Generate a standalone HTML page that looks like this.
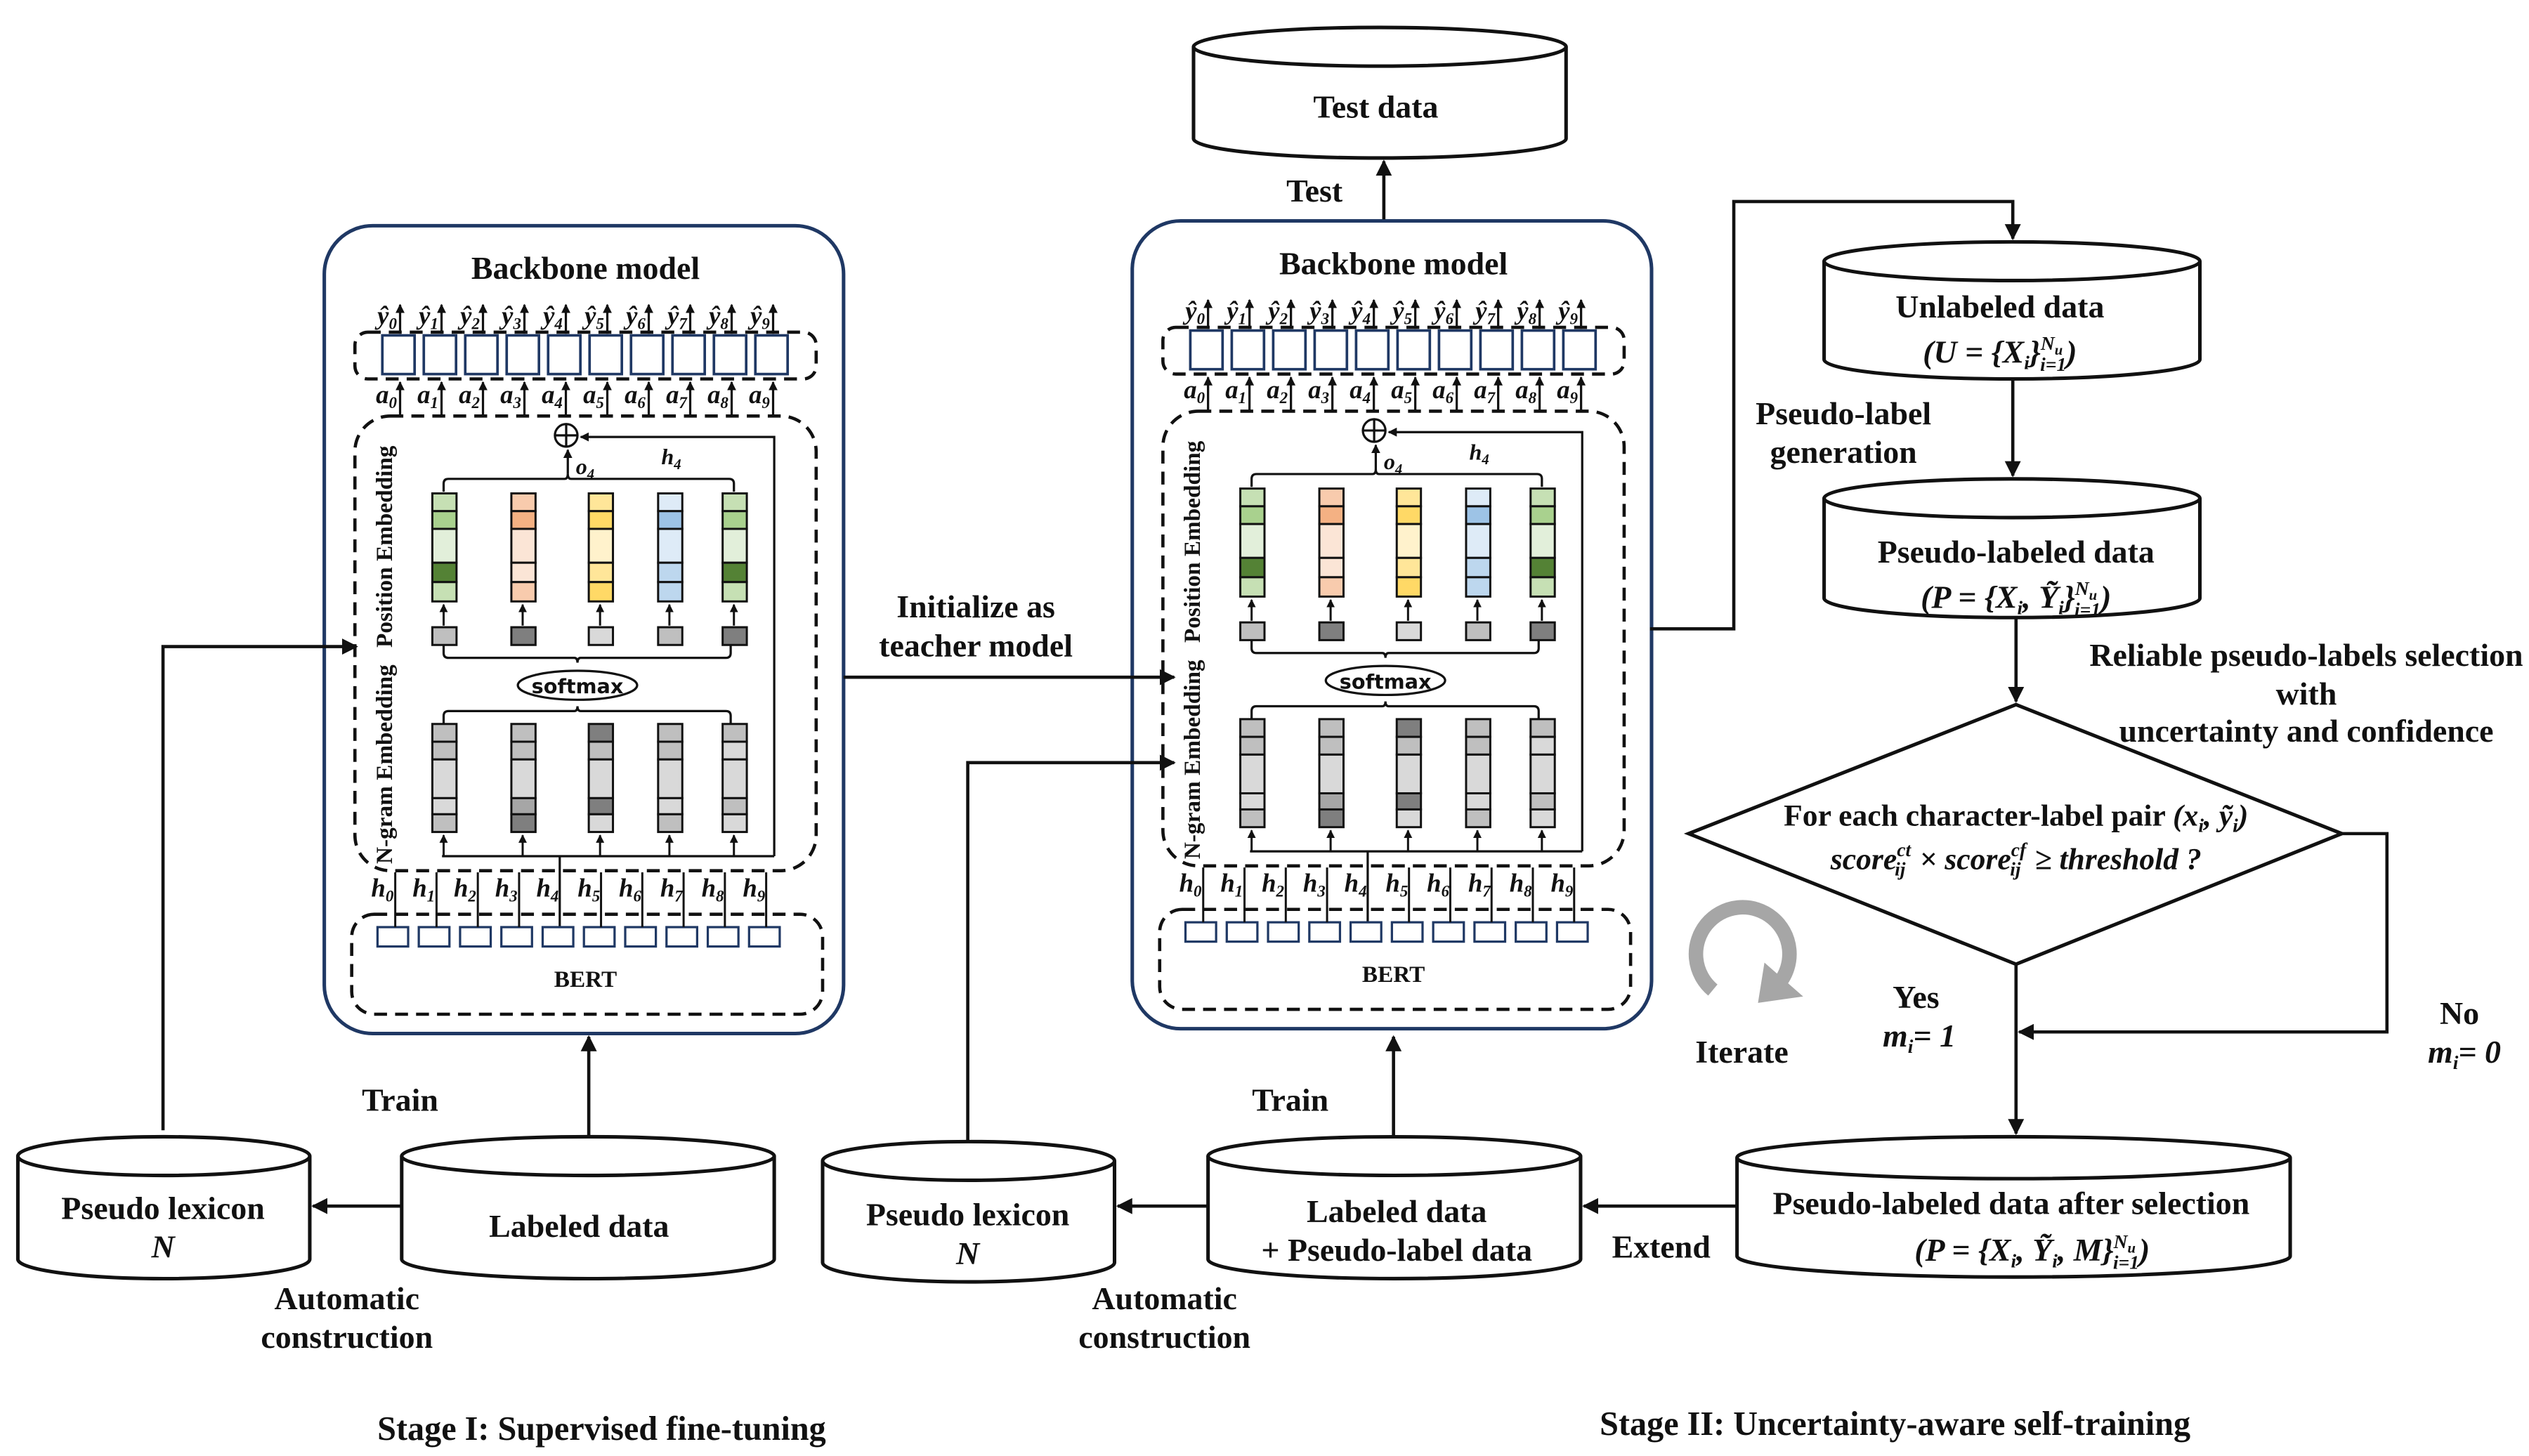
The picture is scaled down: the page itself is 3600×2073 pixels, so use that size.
<!DOCTYPE html>
<html><head><meta charset="utf-8"><style>
html,body{margin:0;padding:0;background:#fff;}
svg{display:block;}
text{font-family:"Liberation Serif",serif;font-weight:bold;fill:#111;}
</style></head><body>
<svg width="3600" height="2073" viewBox="0 0 1568 903" xmlns="http://www.w3.org/2000/svg">
<defs>
<marker id="ar" viewBox="0 0 10 10" refX="9" refY="5" markerWidth="5" markerHeight="5" orient="auto"><path d="M0,0 L10,5 L0,10 z" fill="#111"/></marker>
<marker id="as" viewBox="0 0 10 10" refX="9" refY="5" markerWidth="4" markerHeight="4" orient="auto"><path d="M0,0 L10,5 L0,10 z" fill="#111"/></marker>
<g id="bb">
<rect x="201" y="140" width="322" height="501" rx="30" fill="#fff" stroke="#1f3864" stroke-width="2.2"/>
<text x="363" y="173" font-size="20" text-anchor="middle">Backbone model</text>
<rect x="220" y="206" width="286" height="29" rx="8" fill="none" stroke="#111" stroke-width="2" stroke-dasharray="8,5"/>
<g fill="#fff" stroke="#1f3864" stroke-width="1.6">
<rect x="237" y="208" width="20" height="24"/><rect x="262.7" y="208" width="20" height="24"/><rect x="288.4" y="208" width="20" height="24"/><rect x="314.1" y="208" width="20" height="24"/><rect x="339.8" y="208" width="20" height="24"/><rect x="365.5" y="208" width="20" height="24"/><rect x="391.2" y="208" width="20" height="24"/><rect x="416.9" y="208" width="20" height="24"/><rect x="442.6" y="208" width="20" height="24"/><rect x="468.3" y="208" width="20" height="24"/>
</g>
<g stroke="#111" stroke-width="1.4" marker-end="url(#as)">
<line x1="248" y1="207" x2="248" y2="189"/><line x1="273.7" y1="207" x2="273.7" y2="189"/><line x1="299.4" y1="207" x2="299.4" y2="189"/><line x1="325.1" y1="207" x2="325.1" y2="189"/><line x1="350.8" y1="207" x2="350.8" y2="189"/><line x1="376.5" y1="207" x2="376.5" y2="189"/><line x1="402.2" y1="207" x2="402.2" y2="189"/><line x1="427.9" y1="207" x2="427.9" y2="189"/><line x1="453.6" y1="207" x2="453.6" y2="189"/><line x1="479.3" y1="207" x2="479.3" y2="189"/>
<line x1="248" y1="258" x2="248" y2="237"/><line x1="273.7" y1="258" x2="273.7" y2="237"/><line x1="299.4" y1="258" x2="299.4" y2="237"/><line x1="325.1" y1="258" x2="325.1" y2="237"/><line x1="350.8" y1="258" x2="350.8" y2="237"/><line x1="376.5" y1="258" x2="376.5" y2="237"/><line x1="402.2" y1="258" x2="402.2" y2="237"/><line x1="427.9" y1="258" x2="427.9" y2="237"/><line x1="453.6" y1="258" x2="453.6" y2="237"/><line x1="479.3" y1="258" x2="479.3" y2="237"/>
</g>
<g font-size="16" text-anchor="end" font-style="italic">
<text x="246" y="201">ŷ<tspan font-size="10" dy="3">0</tspan></text><text x="271.7" y="201">ŷ<tspan font-size="10" dy="3">1</tspan></text><text x="297.4" y="201">ŷ<tspan font-size="10" dy="3">2</tspan></text><text x="323.1" y="201">ŷ<tspan font-size="10" dy="3">3</tspan></text><text x="348.8" y="201">ŷ<tspan font-size="10" dy="3">4</tspan></text><text x="374.5" y="201">ŷ<tspan font-size="10" dy="3">5</tspan></text><text x="400.2" y="201">ŷ<tspan font-size="10" dy="3">6</tspan></text><text x="425.9" y="201">ŷ<tspan font-size="10" dy="3">7</tspan></text><text x="451.6" y="201">ŷ<tspan font-size="10" dy="3">8</tspan></text><text x="477.3" y="201">ŷ<tspan font-size="10" dy="3">9</tspan></text>
<text x="246" y="250">a<tspan font-size="10" dy="3">0</tspan></text><text x="271.7" y="250">a<tspan font-size="10" dy="3">1</tspan></text><text x="297.4" y="250">a<tspan font-size="10" dy="3">2</tspan></text><text x="323.1" y="250">a<tspan font-size="10" dy="3">3</tspan></text><text x="348.8" y="250">a<tspan font-size="10" dy="3">4</tspan></text><text x="374.5" y="250">a<tspan font-size="10" dy="3">5</tspan></text><text x="400.2" y="250">a<tspan font-size="10" dy="3">6</tspan></text><text x="425.9" y="250">a<tspan font-size="10" dy="3">7</tspan></text><text x="451.6" y="250">a<tspan font-size="10" dy="3">8</tspan></text><text x="477.3" y="250">a<tspan font-size="10" dy="3">9</tspan></text>
<text x="244" y="556">h<tspan font-size="10" dy="3">0</tspan></text><text x="269.6" y="556">h<tspan font-size="10" dy="3">1</tspan></text><text x="295.2" y="556">h<tspan font-size="10" dy="3">2</tspan></text><text x="320.8" y="556">h<tspan font-size="10" dy="3">3</tspan></text><text x="346.4" y="556">h<tspan font-size="10" dy="3">4</tspan></text><text x="372" y="556">h<tspan font-size="10" dy="3">5</tspan></text><text x="397.6" y="556">h<tspan font-size="10" dy="3">6</tspan></text><text x="423.2" y="556">h<tspan font-size="10" dy="3">7</tspan></text><text x="448.8" y="556">h<tspan font-size="10" dy="3">8</tspan></text><text x="474.4" y="556">h<tspan font-size="10" dy="3">9</tspan></text>
</g>
<rect x="220" y="258" width="286" height="282" rx="22" fill="none" stroke="#111" stroke-width="2" stroke-dasharray="8,5"/>
<text transform="translate(243,339) rotate(-90)" font-size="14.5" text-anchor="middle">Position Embedding</text>
<text transform="translate(243,474) rotate(-90)" font-size="14.5" text-anchor="middle">N-gram Embedding</text>
<circle cx="351" cy="270" r="7" fill="#fff" stroke="#111" stroke-width="1.4"/>
<line x1="344" y1="270" x2="358" y2="270" stroke="#111" stroke-width="1.4"/><line x1="351" y1="263" x2="351" y2="277" stroke="#111" stroke-width="1.4"/>
<text x="357" y="294" font-size="14" font-style="italic">o<tspan font-size="9" dy="3">4</tspan></text>
<text x="410" y="288" font-size="14" font-style="italic">h<tspan font-size="9" dy="3">4</tspan></text>
<g fill="none" stroke="#111" stroke-width="1.4">
<path d="M275,305 v-5 q0,-3 3,-3 h72 q2,0 2,-3 q0,3 2,3 h98 q3,0 3,3 v5"/>
<line x1="352" y1="294" x2="352" y2="279" marker-end="url(#as)"/>
<path d="M480,531 V271 H360" marker-end="url(#as)"/>
<path d="M275,400 v5 q0,3 3,3 h78 q2,0 2,3 q0,-3 2,-3 h90 q3,0 3,-3 v-5"/>
<path d="M275,449 v-5 q0,-3 3,-3 h78 q2,0 2,-3 q0,3 2,3 h90 q3,0 3,3 v5"/>
<line x1="274" y1="531" x2="480" y2="531"/>
<line x1="347" y1="580" x2="347" y2="531"/>
</g>
<g stroke="#111" stroke-width="1.3" marker-end="url(#as)">
<line x1="275" y1="531" x2="275" y2="518"/><line x1="324" y1="531" x2="324" y2="518"/><line x1="372" y1="531" x2="372" y2="518"/><line x1="415" y1="531" x2="415" y2="518"/><line x1="455" y1="531" x2="455" y2="518"/>
<line x1="275" y1="388" x2="275" y2="375"/><line x1="324" y1="388" x2="324" y2="375"/><line x1="372" y1="388" x2="372" y2="375"/><line x1="415" y1="388" x2="415" y2="375"/><line x1="455" y1="388" x2="455" y2="375"/>
</g>
<g stroke="#111" stroke-width="1.3">
<rect x="268" y="306" width="15" height="11" fill="#c6e0b4"/><rect x="268" y="317" width="15" height="11" fill="#a9d18e"/><rect x="268" y="328" width="15" height="21" fill="#e2efda"/><rect x="268" y="349" width="15" height="12" fill="#548235"/><rect x="268" y="361" width="15" height="12" fill="#c6e0b4"/>
<rect x="317" y="306" width="15" height="11" fill="#f8cbad"/><rect x="317" y="317" width="15" height="11" fill="#f4b183"/><rect x="317" y="328" width="15" height="21" fill="#fbe5d6"/><rect x="317" y="349" width="15" height="12" fill="#fbe5d6"/><rect x="317" y="361" width="15" height="12" fill="#f8cbad"/>
<rect x="365" y="306" width="15" height="11" fill="#ffe699"/><rect x="365" y="317" width="15" height="11" fill="#ffd966"/><rect x="365" y="328" width="15" height="21" fill="#fff2cc"/><rect x="365" y="349" width="15" height="12" fill="#ffe699"/><rect x="365" y="361" width="15" height="12" fill="#ffd966"/>
<rect x="408" y="306" width="15" height="11" fill="#deebf7"/><rect x="408" y="317" width="15" height="11" fill="#9dc3e6"/><rect x="408" y="328" width="15" height="21" fill="#deebf7"/><rect x="408" y="349" width="15" height="12" fill="#bdd7ee"/><rect x="408" y="361" width="15" height="12" fill="#bdd7ee"/>
<rect x="448" y="306" width="15" height="11" fill="#c6e0b4"/><rect x="448" y="317" width="15" height="11" fill="#a9d18e"/><rect x="448" y="328" width="15" height="21" fill="#e2efda"/><rect x="448" y="349" width="15" height="12" fill="#548235"/><rect x="448" y="361" width="15" height="12" fill="#c6e0b4"/>
<rect x="268" y="389" width="15" height="11" fill="#bfbfbf"/><rect x="317" y="389" width="15" height="11" fill="#7f7f7f"/><rect x="365" y="389" width="15" height="11" fill="#d9d9d9"/><rect x="408" y="389" width="15" height="11" fill="#bfbfbf"/><rect x="448" y="389" width="15" height="11" fill="#7f7f7f"/>
<rect x="268" y="449" width="15" height="11" fill="#bfbfbf"/><rect x="268" y="460" width="15" height="11" fill="#bfbfbf"/><rect x="268" y="471" width="15" height="24" fill="#d9d9d9"/><rect x="268" y="495" width="15" height="10" fill="#d9d9d9"/><rect x="268" y="505" width="15" height="11" fill="#bfbfbf"/>
<rect x="317" y="449" width="15" height="11" fill="#bfbfbf"/><rect x="317" y="460" width="15" height="11" fill="#bfbfbf"/><rect x="317" y="471" width="15" height="24" fill="#d9d9d9"/><rect x="317" y="495" width="15" height="10" fill="#a6a6a6"/><rect x="317" y="505" width="15" height="11" fill="#7f7f7f"/>
<rect x="365" y="449" width="15" height="11" fill="#7f7f7f"/><rect x="365" y="460" width="15" height="11" fill="#bfbfbf"/><rect x="365" y="471" width="15" height="24" fill="#d9d9d9"/><rect x="365" y="495" width="15" height="10" fill="#7f7f7f"/><rect x="365" y="505" width="15" height="11" fill="#d9d9d9"/>
<rect x="408" y="449" width="15" height="11" fill="#bfbfbf"/><rect x="408" y="460" width="15" height="11" fill="#bfbfbf"/><rect x="408" y="471" width="15" height="24" fill="#d9d9d9"/><rect x="408" y="495" width="15" height="10" fill="#d9d9d9"/><rect x="408" y="505" width="15" height="11" fill="#bfbfbf"/>
<rect x="448" y="449" width="15" height="11" fill="#bfbfbf"/><rect x="448" y="460" width="15" height="11" fill="#d9d9d9"/><rect x="448" y="471" width="15" height="24" fill="#d9d9d9"/><rect x="448" y="495" width="15" height="10" fill="#bfbfbf"/><rect x="448" y="505" width="15" height="11" fill="#d9d9d9"/>
</g>
<ellipse cx="358" cy="425" rx="37" ry="9" fill="#fff" stroke="#111" stroke-width="1.4"/>
<text x="358" y="430" font-size="12.5" text-anchor="middle" style="font-family:'DejaVu Sans',sans-serif">softmax</text>
<rect x="218" y="567" width="292" height="62" rx="14" fill="none" stroke="#111" stroke-width="2" stroke-dasharray="8,5"/>
<g fill="#fff" stroke="#1f3864" stroke-width="1.4">
<rect x="234" y="575" width="19" height="12"/><rect x="259.6" y="575" width="19" height="12"/><rect x="285.2" y="575" width="19" height="12"/><rect x="310.8" y="575" width="19" height="12"/><rect x="336.4" y="575" width="19" height="12"/><rect x="362" y="575" width="19" height="12"/><rect x="387.6" y="575" width="19" height="12"/><rect x="413.2" y="575" width="19" height="12"/><rect x="438.8" y="575" width="19" height="12"/><rect x="464.4" y="575" width="19" height="12"/>
</g>
<g stroke="#111" stroke-width="1.3">
<line x1="245" y1="575" x2="245" y2="541"/><line x1="270.6" y1="575" x2="270.6" y2="541"/><line x1="296.2" y1="575" x2="296.2" y2="541"/><line x1="321.8" y1="575" x2="321.8" y2="541"/><line x1="372.6" y1="575" x2="372.6" y2="541"/><line x1="398.2" y1="575" x2="398.2" y2="541"/><line x1="423.8" y1="575" x2="423.8" y2="541"/><line x1="449.4" y1="575" x2="449.4" y2="541"/><line x1="475" y1="575" x2="475" y2="541"/>
</g>
<text x="363" y="612" font-size="14.5" text-anchor="middle">BERT</text>
</g>
</defs>

<use href="#bb"/>
<use href="#bb" transform="translate(501,-3)"/>

<g fill="#fff" stroke="#111" stroke-width="2.2">
<path d="M740,29 a115.5,12 0 0 1 231,0 v57 a115.5,12 0 0 1 -231,0 z"/><path d="M740,29 a115.5,12 0 0 0 231,0" fill="none"/>
<path d="M11,717 a90.5,12 0 0 1 181,0 v64 a90.5,12 0 0 1 -181,0 z"/><path d="M11,717 a90.5,12 0 0 0 181,0" fill="none"/>
<path d="M249,717 a115.5,12 0 0 1 231,0 v64 a115.5,12 0 0 1 -231,0 z"/><path d="M249,717 a115.5,12 0 0 0 231,0" fill="none"/>
<path d="M510,720 a90.5,12 0 0 1 181,0 v63 a90.5,12 0 0 1 -181,0 z"/><path d="M510,720 a90.5,12 0 0 0 181,0" fill="none"/>
<path d="M749,717 a115.5,12 0 0 1 231,0 v64 a115.5,12 0 0 1 -231,0 z"/><path d="M749,717 a115.5,12 0 0 0 231,0" fill="none"/>
<path d="M1077,718 a171.5,13 0 0 1 343,0 v61 a171.5,13 0 0 1 -343,0 z"/><path d="M1077,718 a171.5,13 0 0 0 343,0" fill="none"/>
<path d="M1131,162 a116.5,12 0 0 1 233,0 v61 a116.5,12 0 0 1 -233,0 z"/><path d="M1131,162 a116.5,12 0 0 0 233,0" fill="none"/>
<path d="M1131,309 a116.5,12 0 0 1 233,0 v62 a116.5,12 0 0 1 -233,0 z"/><path d="M1131,309 a116.5,12 0 0 0 233,0" fill="none"/>
<path d="M1250,437 L1452,517 L1250,598 L1047,517 z"/>
</g>

<g fill="none" stroke="#111" stroke-width="2" marker-end="url(#ar)">
<line x1="858" y1="136" x2="858" y2="100"/>
<line x1="523" y1="420" x2="728" y2="420"/>
<path d="M101,701 V401 H221"/>
<line x1="249" y1="748" x2="194" y2="748"/>
<line x1="365" y1="705" x2="365" y2="643"/>
<path d="M600,707 V473 H728"/>
<line x1="749" y1="748" x2="693" y2="748"/>
<line x1="864" y1="705" x2="864" y2="643"/>
<line x1="1077" y1="748" x2="982" y2="748"/>
<path d="M1023,390 H1075 V125 H1248 V148"/>
<line x1="1248" y1="236" x2="1248" y2="295"/>
<line x1="1250" y1="383" x2="1250" y2="435"/>
<line x1="1250" y1="598" x2="1250" y2="703"/>
<path d="M1452,517 H1480 V640 H1252"/>
</g>

<path d="M1103,610 A29,29 0 1 0 1062,614" fill="none" stroke="#a6a6a6" stroke-width="9"/>
<path d="M1094,597 L1118,618 L1090,622 z" fill="#a6a6a6"/>

<g font-size="20">
<text x="853" y="73" text-anchor="middle">Test data</text>
<text x="815" y="125" text-anchor="middle">Test</text>
<text x="605" y="383" text-anchor="middle">Initialize as</text>
<text x="605" y="407" text-anchor="middle">teacher model</text>
<text x="248" y="689" text-anchor="middle">Train</text>
<text x="800" y="689" text-anchor="middle">Train</text>
<text x="101" y="756" text-anchor="middle">Pseudo lexicon</text>
<text x="101" y="780" text-anchor="middle" font-style="italic">N</text>
<text x="359" y="767" text-anchor="middle">Labeled data</text>
<text x="600" y="760" text-anchor="middle">Pseudo lexicon</text>
<text x="600" y="784" text-anchor="middle" font-style="italic">N</text>
<text x="866" y="758" text-anchor="middle">Labeled data</text>
<text x="866" y="782" text-anchor="middle">+ Pseudo-label data</text>
<text x="215" y="812" text-anchor="middle">Automatic</text>
<text x="215" y="836" text-anchor="middle">construction</text>
<text x="722" y="812" text-anchor="middle">Automatic</text>
<text x="722" y="836" text-anchor="middle">construction</text>
<text x="1030" y="780" text-anchor="middle">Extend</text>
<text x="1247" y="753" text-anchor="middle">Pseudo-labeled data after selection</text>
<text x="1260" y="782" text-anchor="middle" font-style="italic">(P = {X<tspan font-size="12" dy="4">i</tspan><tspan dy="-4">, Ỹ</tspan><tspan font-size="12" dy="4">i</tspan><tspan dy="-4">, M}</tspan><tspan font-size="12" dy="-8">N</tspan><tspan font-size="9" dy="3">u</tspan><tspan font-size="12" dx="-14" dy="10">i=1</tspan><tspan dy="-5">)</tspan></text>
<text x="1240" y="197" text-anchor="middle">Unlabeled data</text>
<text x="1240" y="225" text-anchor="middle" font-style="italic">(U = {X<tspan font-size="12" dy="4">i</tspan><tspan dy="-4">}</tspan><tspan font-size="12" dy="-8">N</tspan><tspan font-size="9" dy="3">u</tspan><tspan font-size="12" dx="-14" dy="10">i=1</tspan><tspan dy="-5">)</tspan></text>
<text x="1250" y="349" text-anchor="middle">Pseudo-labeled data</text>
<text x="1250" y="377" text-anchor="middle" font-style="italic">(P = {X<tspan font-size="12" dy="4">i</tspan><tspan dy="-4">, Ỹ</tspan><tspan font-size="12" dy="4">i</tspan><tspan dy="-4">}</tspan><tspan font-size="12" dy="-8">N</tspan><tspan font-size="9" dy="3">u</tspan><tspan font-size="12" dx="-14" dy="10">i=1</tspan><tspan dy="-5">)</tspan></text>
<text x="1143" y="263" text-anchor="middle">Pseudo-label</text>
<text x="1143" y="287" text-anchor="middle">generation</text>
<text x="1430" y="413" text-anchor="middle">Reliable pseudo-labels selection</text>
<text x="1430" y="437" text-anchor="middle">with</text>
<text x="1430" y="460" text-anchor="middle">uncertainty and confidence</text>
<text x="1250" y="512" text-anchor="middle" font-size="19">For each character-label pair <tspan font-style="italic">(x<tspan font-size="12" dy="4">i</tspan><tspan dy="-4">, ỹ</tspan><tspan font-size="12" dy="4">i</tspan><tspan dy="-4">)</tspan></tspan></text>
<text x="1250" y="539" text-anchor="middle" font-style="italic" font-size="19">score<tspan font-size="12" dy="-8">ct</tspan><tspan font-size="12" dx="-10" dy="12">ij</tspan><tspan dx="4" dy="-4"> × score</tspan><tspan font-size="12" dy="-8">cf</tspan><tspan font-size="12" dx="-10" dy="12">ij</tspan><tspan dx="4" dy="-4"> ≥ threshold ?</tspan></text>
<text x="1188" y="625" text-anchor="middle">Yes</text>
<text x="1190" y="649" text-anchor="middle" font-style="italic">m<tspan font-size="12" dy="4">i</tspan><tspan dy="-4">= 1</tspan></text>
<text x="1525" y="635" text-anchor="middle">No</text>
<text x="1528" y="659" text-anchor="middle" font-style="italic">m<tspan font-size="12" dy="4">i</tspan><tspan dy="-4">= 0</tspan></text>
<text x="1080" y="659" text-anchor="middle">Iterate</text>
</g>
<text x="373" y="893" font-size="21" text-anchor="middle">Stage I: Supervised fine-tuning</text>
<text x="1175" y="890" font-size="21" text-anchor="middle">Stage II: Uncertainty-aware self-training</text>
</svg>
</body></html>
